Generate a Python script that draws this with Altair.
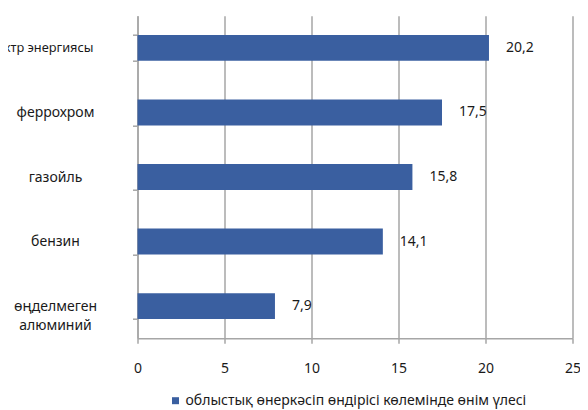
import altair as alt
import pandas as pd

categories = ["электр энергиясы", "феррохром", "газойль", "бензин", "өңделмеген алюминий"]
values = [20.2, 17.5, 15.8, 14.1, 7.9]
series_name = "облыстық өнеркәсіп өндірісі көлемінде өнім үлесі"
x_ticks = [0, 5, 10, 15, 20, 25]

df = pd.DataFrame({"cat": categories, "val": values, "series": series_name})

FONT = "Noto Sans"
GRAY = "#A6A6A6"
BAR = "#3A5FA0"
TXT = "#1a1a1a"
FS = 14
FIRST = "datum.value == 'электр энергиясы'"

y_enc = alt.Y(
    "cat:N",
    sort=categories,
    title=None,
    scale=alt.Scale(paddingInner=0.6, paddingOuter=0.3),
    axis=alt.Axis(
        domain=True,
        domainColor=GRAY,
        domainWidth=1.5,
        ticks=True,
        tickColor=GRAY,
        tickWidth=1.5,
        tickSize=5,
        tickBand="extent",
        grid=False,
        labelFont=FONT,
        labelFontSize={"condition": {"test": FIRST, "value": 12.8}, "value": FS},
        labelColor=TXT,
        labelLineHeight=19,
        labelLimit=300,
        labelAlign={"condition": {"test": FIRST, "value": "right"}, "value": "center"},
        labelPadding={"condition": {"test": FIRST, "value": 39.5}, "value": 77.5},
        labelExpr="datum.value == 'өңделмеген алюминий' ? ['өңделмеген', 'алюминий'] : datum.value",
    ),
)

x_enc = alt.X(
    "val:Q",
    title=None,
    scale=alt.Scale(domain=[0, 25], nice=False),
    axis=alt.Axis(
        values=x_ticks,
        grid=True,
        gridColor=GRAY,
        gridWidth=1.5,
        domain=True,
        domainColor=GRAY,
        domainWidth=1.5,
        ticks=True,
        tickColor=GRAY,
        tickWidth=1.5,
        tickSize=5,
        labelFont=FONT,
        labelFontSize=FS,
        labelColor=TXT,
        labelPadding=18,
        labelFlush=False,
    ),
)

bars = alt.Chart(df).mark_bar().encode(
    x=x_enc,
    y=y_enc,
    color=alt.Color(
        "series:N",
        scale=alt.Scale(range=[BAR]),
        legend=alt.Legend(
            title=None,
            orient="none",
            legendX=31,
            legendY=378,
            direction="horizontal",
            symbolType="square",
            symbolSize=49,
            symbolStrokeWidth=0,
            labelFont=FONT,
            labelFontSize=FS,
            labelColor=TXT,
            labelOffset=3,
            labelLimit=500,
            padding=0,
        ),
    ),
)

labels = alt.Chart(df).transform_calculate(
    lbl="replace(format(datum.val, '.1f'), '.', ',')"
).mark_text(
    align="left", baseline="middle", dx=17, font=FONT, fontSize=FS, color=TXT
).encode(
    x=alt.X("val:Q"),
    y=alt.Y("cat:N", sort=categories),
    text="lbl:N",
)

chart = (bars + labels).properties(
    width=435,
    height=322.6,
    autosize=alt.AutoSizeParams(type="none"),
    padding={"left": 129.5, "top": 7.7, "right": 7.5, "bottom": 71.7},
).configure_view(stroke=None)

chart.save("out.html", embed_options={"renderer": "svg", "actions": False})
